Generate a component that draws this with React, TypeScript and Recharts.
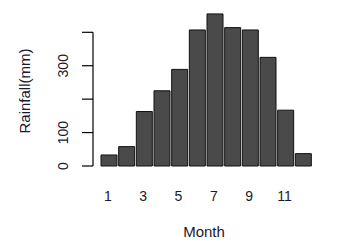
import { BarChart, Bar, XAxis, YAxis, ReferenceLine } from 'recharts';

const months = ['1', '2', '3', '4', '5', '6', '7', '8', '9', '10', '11', '12'];
const rainfall = [33, 58, 163, 225, 289, 407, 455, 414, 407, 325, 167, 37];
const yTicks = [0, 100, 200, 300, 400];
const yTickLabels = ['0', '100', '', '300', ''];

const data = months.map((m, i) => ({ month: m, rainfall: rainfall[i] }));

const textColor = '#1a1a2e';
const font = '"Liberation Sans", Arial, sans-serif';

const YTick = (props: any) => {
  const { x, y, payload, index } = props;
  const label = yTickLabels[index];
  return (
    <g>
      <line x1={x} x2={x + 11} y1={y} y2={y} stroke="#000" strokeWidth={1.2} />
      {label && (
        <text
          x={63}
          y={y}
          transform={`rotate(-90, 63, ${y})`}
          textAnchor="middle"
          dy="0.36em"
          fontSize={14}
          fontFamily={font}
          fill={textColor}
        >
          {label}
        </text>
      )}
    </g>
  );
};

const XTick = (props: any) => {
  const { x, y, payload } = props;
  return (
    <text x={x - 1} y={y + 35} textAnchor="middle" fontSize={14} fontFamily={font} fill={textColor}>
      {payload.value}
    </text>
  );
};

export default function App() {
  return (
    <div style={{ position: 'absolute', left: 0, top: 0, width: 348, height: 245, background: '#fff' }}>
      <BarChart
        width={348}
        height={245}
        data={data}
        margin={{ top: 5.56, right: 36, bottom: 0, left: 0 }}
        barCategoryGap={1}
      >
        <XAxis
          dataKey="month"
          interval={1}
          axisLine={false}
          tickLine={false}
          tickSize={0}
          tickMargin={0}
          height={79}
          padding={{ left: 7, right: 0 }}
          tick={<XTick />}
          label={{
            content: () => (
              <text x={204} y={236.5} textAnchor="middle" fontSize={15} fontFamily={font} fill={textColor}>
                Month
              </text>
            ),
          }}
        />
        <XAxis xAxisId="n" type="number" domain={[0, 1]} hide />
        <YAxis
          domain={[0, 480]}
          ticks={yTicks}
          width={93}
          axisLine={false}
          tickLine={false}
          tickSize={0}
          tickMargin={0}
          tick={(p: any) => <YTick {...p} x={82} />}
          label={{
            content: () => (
              <text
                x={30}
                y={91}
                transform="rotate(-90, 30, 91)"
                textAnchor="middle"
                fontSize={15}
                fontFamily={font}
                fill={textColor}
              >
                Rainfall(mm)
              </text>
            ),
          }}
        />
        <ReferenceLine
          xAxisId="n"
          segment={[
            { x: 0, y: 0 },
            { x: 0, y: 400 },
          ]}
          stroke="#000"
          strokeWidth={1.2}
        />
        <Bar dataKey="rainfall" fill="#4a4a4a" stroke="#111" strokeWidth={1} isAnimationActive={false} />
      </BarChart>
    </div>
  );
}
